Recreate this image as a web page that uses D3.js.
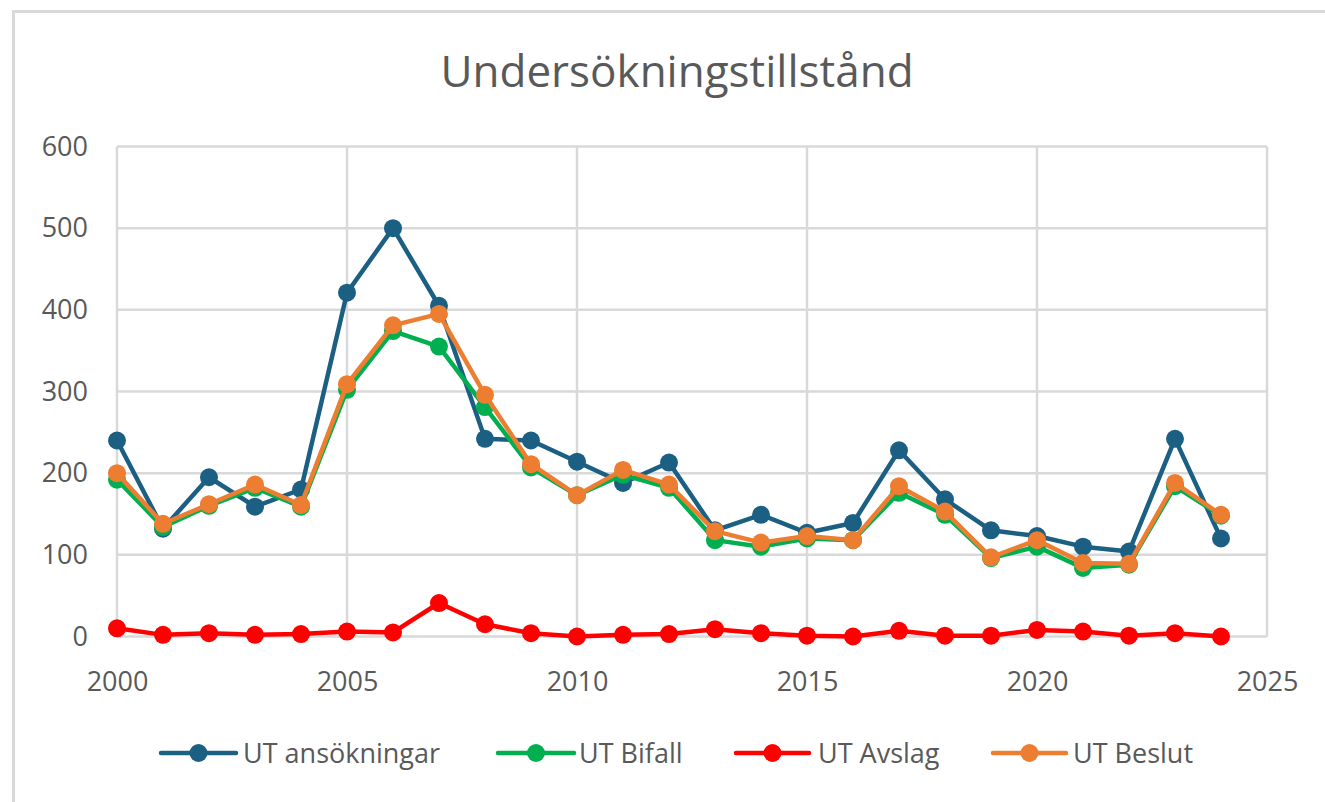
<!DOCTYPE html>
<html><head><meta charset="utf-8">
<script src="https://cdn.jsdelivr.net/npm/d3@7"></script>
<style>html,body{margin:0;padding:0;background:#fff;}svg{display:block;}</style>
</head><body>
<script>
const title = "Undersökningstillstånd";
const years = d3.range(2000, 2025);
const ansokningar = [240,132,195,159,180,421,500,405,242,240,214,188,213,130,149,127,139,228,168,130,123,110,104,242,120];
const bifall      = [192,134,160,182,159,302,374,355,281,207,173,198,182,118,110,120,118,176,149,96,110,84,88,184,148];
const avslag      = [10,2,4,2,3,6,5,41,15,4,0,2,3,9,4,1,0,7,1,1,8,6,1,4,0];
const beslut      = [200,138,162,186,161,309,381,395,296,211,173,204,186,129,115,123,118,184,153,97,118,90,89,188,149];
const seriesNames = ["UT ansökningar","UT Bifall","UT Avslag","UT Beslut"];
const seriesColors = ["#1B5F83","#00B050","#FF0000","#ED7D31"];
const xTicks = [2000,2005,2010,2015,2020,2025];
const yTicks = [0,100,200,300,400,500,600];

const W = 1325, H = 802;
const svg = d3.select("body").append("svg").attr("width", W).attr("height", H);
const font = "'Open Sans', sans-serif";
const textColor = "#595959";
const gridColor = "#D9D9D9";

// chart border (partially visible)
svg.append("line").attr("x1",13).attr("x2",W).attr("y1",11.5).attr("y2",11.5).attr("stroke",gridColor).attr("stroke-width",3);
svg.append("line").attr("x1",13.5).attr("x2",13.5).attr("y1",10).attr("y2",H).attr("stroke",gridColor).attr("stroke-width",3);

const x = d3.scaleLinear().domain([2000,2025]).range([117,1267]);
const y = d3.scaleLinear().domain([0,600]).range([636.5,146.5]);

// title
svg.append("text").attr("x",677).attr("y",87).attr("text-anchor","middle")
  .attr("font-family",font).attr("font-size",44).attr("fill",textColor).text(title);

// gridlines
const g = svg.append("g");
g.selectAll("line.h").data(yTicks).join("line").attr("class","h")
  .attr("x1",x(2000)).attr("x2",x(2025)).attr("y1",d=>y(d)).attr("y2",d=>y(d))
  .attr("stroke",gridColor).attr("stroke-width",2.5);
g.selectAll("line.v").data(xTicks).join("line").attr("class","v")
  .attr("x1",d=>x(d)).attr("x2",d=>x(d)).attr("y1",y(0)).attr("y2",y(600))
  .attr("stroke",gridColor).attr("stroke-width",2.5);

// axes labels
const yAxis = d3.axisLeft(y).tickValues(yTicks).tickSize(0).tickPadding(29);
const ya = svg.append("g").attr("transform",`translate(${x(2000)},0)`).call(yAxis);
ya.select(".domain").remove();
ya.selectAll("text").attr("font-family",font).attr("font-size",27).attr("fill",textColor);

const xAxis = d3.axisBottom(x).tickValues(xTicks).tickFormat(d3.format("d")).tickSize(0).tickPadding(35);
const xa = svg.append("g").attr("transform",`translate(0,${y(0)})`).call(xAxis);
xa.select(".domain").remove();
xa.selectAll("text").attr("font-family",font).attr("font-size",27).attr("fill",textColor);

// series
const allSeries = [ansokningar, bifall, avslag, beslut];
const line = d3.line().x((d,i)=>x(years[i])).y(d=>y(d));
allSeries.forEach((vals, si) => {
  const sg = svg.append("g");
  sg.append("path").datum(vals).attr("d", line).attr("fill","none")
    .attr("stroke", seriesColors[si]).attr("stroke-width",4.5).attr("stroke-linejoin","round").attr("stroke-linecap","round");
  sg.selectAll("circle").data(vals).join("circle")
    .attr("cx",(d,i)=>x(years[i])).attr("cy",d=>y(d)).attr("r",9)
    .attr("fill",seriesColors[si]);
});

// legend
const legendItems = [
  {x1:161, x2:236, tx:243},
  {x1:498, x2:574, tx:579},
  {x1:736, x2:809, tx:818},
  {x1:993, x2:1066, tx:1073}
];
const ly = 753;
legendItems.forEach((it, i) => {
  const lg = svg.append("g");
  lg.append("line").attr("x1",it.x1).attr("x2",it.x2).attr("y1",ly).attr("y2",ly)
    .attr("stroke",seriesColors[i]).attr("stroke-width",4.5).attr("stroke-linecap","round");
  lg.append("circle").attr("cx",(it.x1+it.x2)/2).attr("cy",ly).attr("r",9).attr("fill",seriesColors[i]);
  lg.append("text").attr("x",it.tx).attr("y",ly+10).attr("font-family",font).attr("font-size",27)
    .attr("fill",textColor).text(seriesNames[i]);
});
</script>
</body></html>
